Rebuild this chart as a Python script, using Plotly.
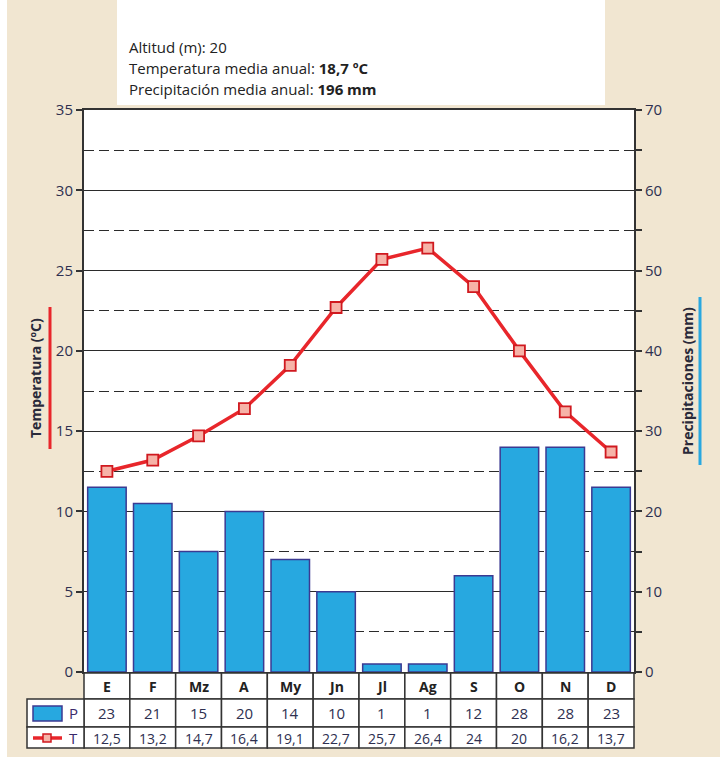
import plotly.graph_objects as go

months = ["E", "F", "Mz", "A", "My", "Jn", "Jl", "Ag", "S", "O", "N", "D"]
precip = [23, 21, 15, 20, 14, 10, 1, 1, 12, 28, 28, 23]
temp = [12.5, 13.2, 14.7, 16.4, 19.1, 22.7, 25.7, 26.4, 24, 20, 16.2, 13.7]
info_lines = ["Altitud (m): 20",
              "Temperatura media anual: <b>18,7 ºC</b>",
              "Precipitación media anual: <b>196 mm</b>"]

W, H = 720, 757
L, R, T, B = 84, 634, 110, 672
FONT = "Open Sans"
BEIGE = "#F1E6D1"
TXT = "#2E3050"

def px(x):
    return (x - L) / (R - L)

def py(y):
    return (B - y) / (B - T)

n = len(months)
xs = list(range(n))

fig = go.Figure()
fig.add_trace(go.Bar(x=xs, y=precip, yaxis="y", width=0.84,
                     marker=dict(color="#27A8E0", line=dict(color="#3B3A92", width=1.5)),
                     showlegend=False))
fig.add_trace(go.Scatter(x=xs, y=temp, yaxis="y2", mode="lines+markers",
                         line=dict(color="#E8262B", width=3.5),
                         marker=dict(symbol="square", size=11, color="#F6B3A8",
                                     line=dict(color="#D0191F", width=1.8)),
                         showlegend=False))

shapes = []
annotations = []

def ann(x, y, text, size=14, color="#222", angle=0, xanchor="center", family=FONT):
    annotations.append(dict(xref="paper", yref="paper", x=x, y=y, text=text, textangle=angle,
                            showarrow=False, xanchor=xanchor, yanchor="middle",
                            font=dict(family=family, size=size, color=color)))

# left white strip and info box
shapes.append(dict(type="rect", xref="paper", yref="paper", x0=px(0), x1=px(7), y0=py(H), y1=py(0),
                   fillcolor="white", line=dict(width=0), layer="below"))
shapes.append(dict(type="rect", xref="paper", yref="paper", x0=px(117), x1=px(605), y0=py(105), y1=py(0),
                   fillcolor="white", line=dict(width=0), layer="below"))
for i, t in enumerate(info_lines):
    ann(px(127), py(47 + 21 * i), t, size=15, xanchor="left")

# axis titles with coloured bars
ann(px(35), py(378), "<b>Temperatura (ºC)</b>", size=14, color="#2A2A3A", angle=-90)
shapes.append(dict(type="line", xref="paper", yref="paper", x0=px(50), x1=px(50), y0=py(307), y1=py(449),
                   line=dict(color="#E8262B", width=3)))
ann(px(688), py(381), "<b>Precipitaciones (mm)</b>", size=14, color="#2A2A3A", angle=-90)
shapes.append(dict(type="line", xref="paper", yref="paper", x0=px(700), x1=px(700), y0=py(297), y1=py(465),
                   line=dict(color="#29A8E0", width=3)))

# table
rows = [(673, 699), (699, 727), (727, 748)]
cw = 1.0 / n
cell_line = dict(color="#333333", width=1.5)
for r, (ya, yb) in enumerate(rows):
    for i in range(n):
        shapes.append(dict(type="rect", xref="paper", yref="paper", x0=i * cw, x1=(i + 1) * cw,
                           y0=py(yb), y1=py(ya), fillcolor="white", line=cell_line))
    if r > 0:
        shapes.append(dict(type="rect", xref="paper", yref="paper", x0=px(27), x1=0,
                           y0=py(yb), y1=py(ya), fillcolor="white", line=cell_line))

def fmt(v):
    return f"{v:g}".replace(".", ",")

for i in range(n):
    cx = (i + 0.5) * cw
    ann(cx, py(686), f"<b>{months[i]}</b>", size=14, color="#222")
    ann(cx, py(713), fmt(precip[i]), size=15, color=TXT)
    ann(cx, py(738), fmt(temp[i]), size=14, color=TXT)

# legend symbols
shapes.append(dict(type="rect", xref="paper", yref="paper", x0=px(33), x1=px(62), y0=py(721), y1=py(706),
                   fillcolor="#27A8E0", line=dict(color="#3B3A92", width=1.5)))
shapes.append(dict(type="line", xref="paper", yref="paper", x0=px(33), x1=px(62), y0=py(738), y1=py(738),
                   line=dict(color="#E8262B", width=3.5)))
shapes.append(dict(type="rect", xref="paper", yref="paper", x0=px(43), x1=px(51), y0=py(742), y1=py(734),
                   fillcolor="#F6B3A8", line=dict(color="#D0191F", width=1.5)))
ann(px(73), py(713), "P", size=15, color="#3A2A6A")
ann(px(73), py(738), "T", size=15, color="#3A2A6A")

fig.update_layout(
    width=W, height=H,
    margin=dict(l=L, r=W - R, t=T, b=H - B, pad=0),
    paper_bgcolor=BEIGE, plot_bgcolor="white",
    xaxis=dict(range=[-0.5, n - 0.5], showticklabels=False, ticks="", showgrid=False,
               showline=True, mirror=True, linecolor="#333333", linewidth=2, zeroline=False),
    yaxis=dict(range=[0, 70], side="right", dtick=10, tick0=0, showgrid=True,
               gridcolor="#2B2B2B", gridwidth=1.3, zeroline=False,
               showline=True, linecolor="#333333", linewidth=2,
               ticks="outside", ticklen=6, tickcolor="#333333", tickwidth=1.5,
               tickfont=dict(family=FONT, size=15, color=TXT),
               minor=dict(dtick=5, tick0=0, showgrid=True, gridcolor="#2B2B2B", gridwidth=1.3,
                          griddash="10px,5px", ticks="outside", ticklen=6, tickcolor="#333333")),
    yaxis2=dict(range=[0, 35], side="left", overlaying="y", dtick=5, tick0=0, showgrid=False,
                zeroline=False, showline=True, linecolor="#333333", linewidth=2,
                ticks="outside", ticklen=6, tickcolor="#333333", tickwidth=1.5,
                tickfont=dict(family=FONT, size=15, color=TXT)),
    shapes=shapes, annotations=annotations,
)

fig.write_html("out.html", config={"displayModeBar": False},
               post_script="document.body.style.margin='0';")
